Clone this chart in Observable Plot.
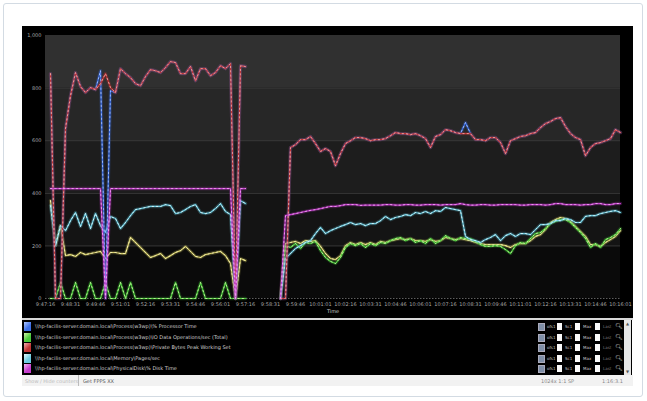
<!DOCTYPE html>
<html><head><meta charset="utf-8">
<script src="https://cdn.jsdelivr.net/npm/d3@7"></script>
<script src="https://cdn.jsdelivr.net/npm/@observablehq/plot@0.6"></script>
<style>
body{margin:0;background:#fff;width:647px;height:401px;overflow:hidden;font-family:"DejaVu Sans",sans-serif;position:relative;}
#frame{position:absolute;left:3px;top:3px;width:638px;height:392px;border:1px solid #d3dbe3;border-radius:3px;}
#chart{position:absolute;left:22px;top:26px;width:611px;height:292px;background:#000;}
#chart svg{display:block;}
#sep{position:absolute;left:22px;top:318px;width:611px;height:2px;background:#d8d8d8;}
#legend{position:absolute;left:22px;top:320px;width:610px;height:55px;background:#000;}
.row{position:absolute;left:0;width:600px;height:9px;}
.sw{position:absolute;left:2px;top:0;width:7px;height:9px;}
.lab{position:absolute;left:13px;top:1px;font-size:5px;color:#cfcfcf;white-space:nowrap;line-height:7px;}
.ico{position:absolute;top:1px;width:5px;height:6px;background:#7f8fa8;border:1px solid #aab;}
.box{position:absolute;top:1px;width:5px;height:7px;background:#fafafa;}
.tx{position:absolute;top:2px;font-size:4px;color:#c4c4c4;white-space:nowrap;}
.mag{position:absolute;top:0;font-size:6px;color:#ddd;}
#scroll{position:absolute;left:602px;top:0;width:7px;height:55px;background:#e6e6e6;}
#scroll div{position:absolute;left:1px;width:5px;font-size:4px;color:#555;text-align:center;}
#bar{position:absolute;left:22px;top:375px;width:611px;height:11px;background:#f2f2f2;font-size:5px;color:#999;}
#bar span{position:absolute;top:3px;white-space:nowrap;}
</style>
</head><body>
<div id="frame"></div>
<div id="chart"></div>
<div id="sep"></div>
<div id="legend"></div>
<div id="bar">
  <span style="left:3px;color:#bbb">Show / Hide counters</span>
  <span style="left:56px;top:0;height:11px;border-left:1px solid #bbb"></span>
  <span style="left:61px;color:#555">Get FPPS XX</span>
  <span style="left:519px;color:#888">1024x 1:1 SP</span>
  <span style="left:580px;color:#888">1:16:3.1</span>
</div>
<script>
// ---- data ----
const startTime = "9:47:16";
const sampleSeconds = 15;
const segAStart = 1;
const segBStart = 47;

const timeTicks = ["9:47:16","9:48:31","9:49:46","9:51:01","9:52:16","9:53:31","9:54:46","9:56:01",
  "9:57:16","9:58:31","9:59:46","10:01:01","10:02:16","10:03:31","10:04:46","10:06:01",
  "10:07:16","10:08:31","10:09:46","10:11:01","10:12:16","10:13:31","10:14:46","10:16:01"];
const yTicks = [0, 200, 400, 600, 800, 1000];
const bandEdges = [0, 200, 400, 600, 800, 1000];

const seriesNames = [
  "\\\\hp-facilis-server.domain.local\\Process(w3wp)\\% Processor Time",
  "\\\\hp-facilis-server.domain.local\\Process(w3wp)\\IO Data Operations/sec (Total)",
  "\\\\hp-facilis-server.domain.local\\Process(w3wp)\\Private Bytes Peak Working Set",
  "\\\\hp-facilis-server.domain.local\\Memory\\Pages/sec",
  "\\\\hp-facilis-server.domain.local\\PhysicalDisk\\% Disk Time",
  "\\\\hp-facilis-server.domain.local\\Network Interface\\Bytes Total/sec"
];

const blueA = [855,0,0,646,771,859,806,783,802,794,866,0,790,783,874,855,840,817,809,844,870,866,859,878,901,897,855,855,882,828,874,874,847,859,885,874,893,0,885,882];
const blueB = [0,0,574,585,604,604,616,589,559,570,559,505,551,589,600,612,612,608,600,604,604,608,619,631,627,627,623,627,619,608,574,616,623,642,638,631,627,669,627,604,604,600,612,612,593,551,600,608,616,619,627,631,650,665,673,684,688,654,627,612,604,543,574,589,593,600,608,642,631];

const greenA = [0,0,61,0,0,61,0,0,61,0,0,61,0,0,61,0,61,0,0,0,0,0,0,0,0,61,0,0,0,0,61,0,0,0,0,61,0,0,0,0];
const greenB = [0,201,194,209,190,213,209,217,182,156,141,133,156,194,209,201,209,194,209,201,213,209,220,228,232,220,228,213,220,209,228,209,220,239,228,220,232,228,228,217,205,198,198,201,198,186,171,201,213,209,228,247,251,266,285,293,300,300,289,270,251,228,194,209,194,224,232,243,266];

const redA = [855,0,0,646,771,859,806,783,802,794,817,855,802,783,874,855,840,817,809,844,870,866,859,878,901,897,855,855,882,828,874,874,847,859,885,874,893,0,885,882];
const redB = [0,0,574,585,604,604,616,589,559,570,559,505,551,589,600,612,612,608,600,604,604,608,619,631,627,627,623,627,619,608,574,616,623,642,638,631,627,627,627,604,604,600,612,612,593,551,600,608,616,619,627,631,650,665,673,684,688,654,627,612,604,543,574,589,593,600,608,642,631];

const cyanA = [353,201,277,258,296,327,274,323,266,323,277,251,312,304,266,289,315,338,342,346,350,350,350,357,353,323,327,338,350,357,327,323,327,342,361,331,319,0,372,361];
const cyanB = [0,152,171,190,201,213,220,247,270,247,258,266,274,281,289,281,285,277,285,285,296,312,300,308,312,319,315,327,323,331,323,334,331,346,342,338,334,236,224,220,213,224,232,243,220,239,247,236,247,247,243,262,281,281,285,296,296,304,300,289,289,312,315,315,323,327,331,334,327];

const magentaA = [418,418,418,418,418,418,418,418,418,418,418,0,418,418,418,418,418,418,418,418,418,418,418,418,418,418,418,418,418,418,418,418,418,418,418,418,418,0,418,418];
const magentaB = [0,315,319,323,327,331,335,338,342,346,350,350,353,357,357,357,354,355,355,355,355,357,357,355,355,357,357,355,355,357,357,357,355,357,357,357,361,357,355,355,357,357,355,355,357,357,357,357,355,355,357,357,357,355,357,361,361,357,357,357,355,357,357,361,361,357,357,361,361];

const yellowA = [372,201,277,163,167,160,175,167,171,175,179,152,175,175,171,171,232,213,194,175,156,163,171,152,163,175,182,198,179,160,156,167,171,175,179,163,133,0,152,144];
const yellowB = [0,209,213,217,209,220,217,220,198,171,152,148,163,201,213,205,213,205,213,205,217,213,220,224,228,224,228,220,220,217,224,217,220,232,228,224,228,224,220,213,209,205,205,205,205,201,194,205,209,209,220,236,243,262,289,300,308,304,293,274,255,236,205,205,198,213,224,236,258];

// ---- styling ----
const palette = {
  blue:    ["#3d6fe6", "#b0c8ff"],
  green:   ["#49c93a", "#d2f5a8"],
  red:     ["#c03434", "#f2b0b0"],
  cyan:    ["#6ccbe0", "#e6fbff"],
  magenta: ["#c43ccc", "#f6b8f6"],
  yellow:  ["#d4cd68", "#fbf5c2"]
};
const series = [
  {key:"blue", A:blueA, B:blueB, name:seriesNames[0]},
  {key:"green", A:greenA, B:greenB, name:seriesNames[1]},
  {key:"red", A:redA, B:redB, name:seriesNames[2]},
  {key:"cyan", A:cyanA, B:cyanB, name:seriesNames[3]},
  {key:"magenta", A:magentaA, B:magentaB, name:seriesNames[4]},
  {key:"yellow", A:yellowA, B:yellowB, name:seriesNames[5]}
];
const drawOrder = ["yellow","green","cyan","blue","red","magenta"];

const parseT = d3.timeParse("%H:%M:%S");
const t0 = parseT(startTime.padStart(8,"0"));
const tAt = i => new Date(+t0 + i*sampleSeconds*1000);
const lastIndex = segBStart + redB.length - 1;

function rowsOf(s){
  const r = [];
  s.A.forEach((v,k)=>r.push({t:tAt(segAStart+k), v, seg:"A"}));
  s.B.forEach((v,k)=>r.push({t:tAt(segBStart+k), v, seg:"B"}));
  return r;
}

const bands = bandEdges.slice(0,-1).map((lo,k)=>({lo, hi:bandEdges[k+1], k}));
const shade = k => d3.interpolateRgb("#0a0a0a", "#303030")(k/(bands.length-1));

const marks = [
  Plot.rect(bands, {y1:"lo", y2:"hi", fill: d => shade(d.k)}),
  Plot.ruleY(yTicks.slice(1,-1), {stroke:"#3a3a3a", strokeWidth:1}),
  Plot.ruleY([0], {stroke:"#777", strokeDasharray:"1.5,1.5", strokeWidth:0.8}),
];
for (const key of drawOrder){
  const s = series.find(d=>d.key===key);
  const data = rowsOf(s);
  const [c, l] = palette[key];
  marks.push(Plot.line(data, {x:"t", y:"v", z:"seg", stroke:c, strokeWidth:3.4, strokeOpacity:0.25}));
  marks.push(Plot.line(data, {x:"t", y:"v", z:"seg", stroke:c, strokeWidth:1.2}));
  marks.push(Plot.line(data, {x:"t", y:"v", z:"seg", stroke:l, strokeWidth:0.9, strokeOpacity:0.9, strokeDasharray:"1.3,3"}));
}
marks.push(Plot.text(["Time"], {frameAnchor:"bottom", dy:14, fill:"#c8c8c8", fontSize:5}));

const chart = Plot.plot({
  width: 611, height: 292,
  marginLeft: 23, marginRight: 13, marginTop: 9, marginBottom: 20,
  style: {background:"#000", color:"#a8a8a8", fontSize:"5px", fontFamily:"DejaVu Sans"},
  color: {type:"identity"},
  x: {type:"time", domain:[tAt(0), tAt(lastIndex)], ticks: timeTicks.map(s=>parseT(s.padStart(8,"0"))),
      tickFormat: d3.timeFormat("%-I:%M:%S"), tickSize:0, tickPadding:4, label:null},
  y: {domain:[0,1000], ticks:yTicks, tickFormat:d3.format(","), tickSize:0, tickPadding:4, label:null},
  marks
});
document.getElementById("chart").appendChild(chart);

// ---- legend (first five counters visible, list scrolls) ----
const legend = document.getElementById("legend");
series.slice(0,5).forEach((s,k)=>{
  const [c,l] = palette[s.key];
  const row = document.createElement("div");
  row.className = "row";
  row.style.top = (2 + k*10.6) + "px";
  row.innerHTML = `<div class="sw" style="background:linear-gradient(135deg, ${l}, ${c} 60%)"></div>
    <div class="lab">${s.name.replace(/</g,"&lt;")}</div>
    <div class="ico" style="left:516px"></div><div class="tx" style="left:525px">ofs1</div>
    <div class="box" style="left:535px"></div><div class="tx" style="left:543px">Sc1</div>
    <div class="box" style="left:553px"></div><div class="tx" style="left:561px">Max</div>
    <div class="box" style="left:573px"></div><div class="tx" style="left:581px;color:#777">Last</div>
    <div class="mag" style="left:593px">&#x1F50D;&#xFE0E;</div>`;
  legend.appendChild(row);
});
const sc = document.createElement("div");
sc.id = "scroll";
sc.innerHTML = `<div style="top:1px">&#9650;</div><div style="bottom:1px">&#9660;</div>`;
legend.appendChild(sc);
</script>
</body></html>
